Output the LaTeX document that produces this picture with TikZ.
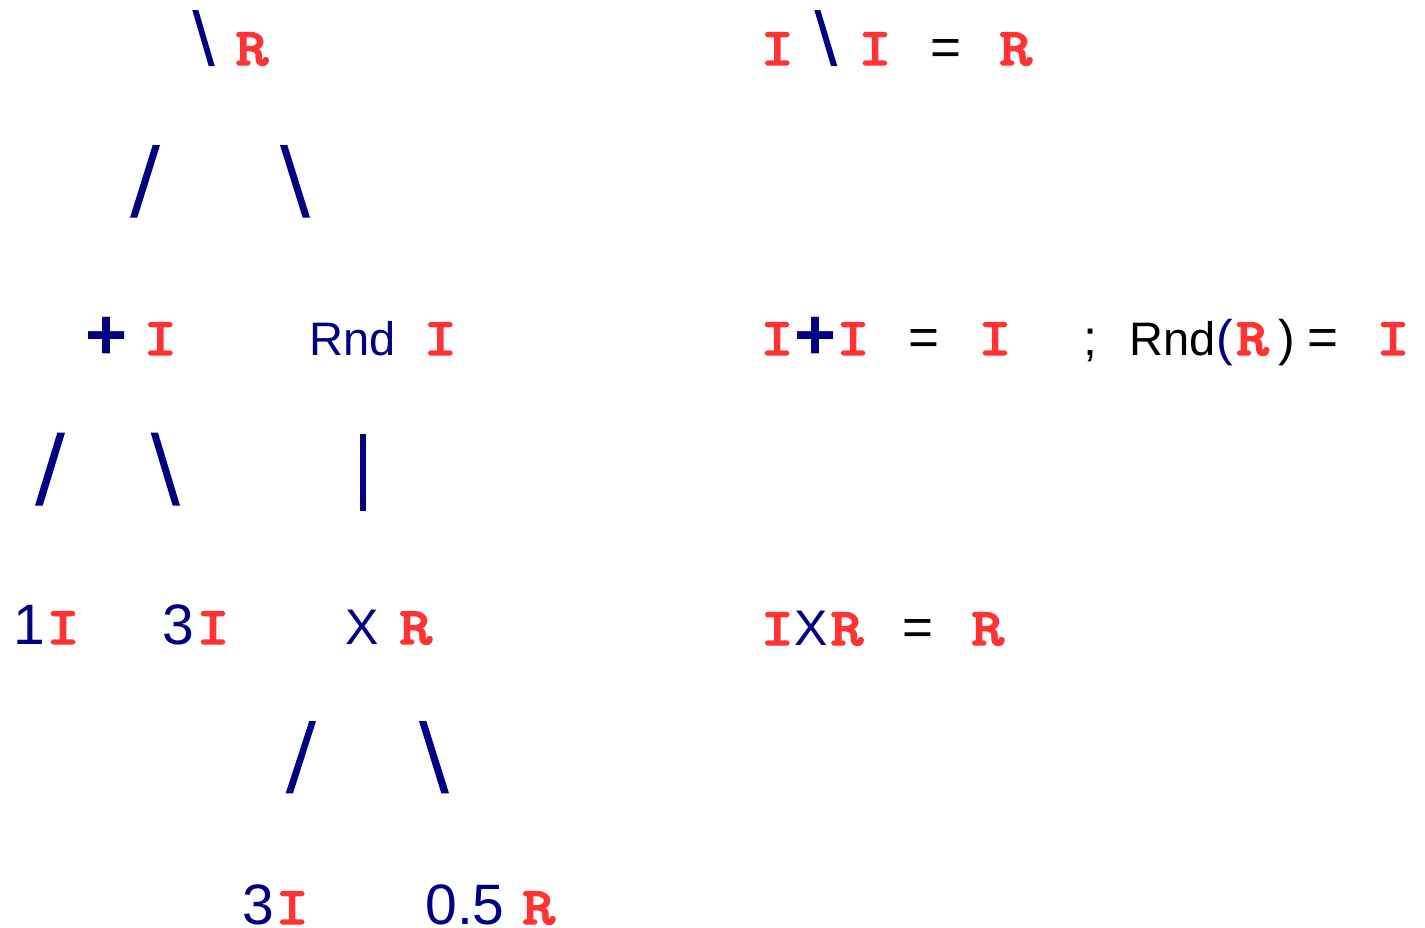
\documentclass[tikz,border=0pt]{standalone}
\usepackage{fontspec}
\setmainfont{Liberation Sans}
\newfontfamily\redfont{lmmonolt10-bold}[Extension=.otf, FakeBold=2.5, FakeStretch=1.18]
\definecolor{navyc}{RGB}{0,0,128}
\definecolor{redc}{RGB}{255,51,51}
\newcommand\fsz[1]{\fontsize{#1}{#1}\selectfont}
\tikzset{
  nav/.style={inner sep=0pt, anchor=base, text depth=0pt, text=navyc, font=\fsz{#1}},
  blk/.style={inner sep=0pt, anchor=base, text depth=0pt, text=black, font=\fsz{#1}},
  plusop/.style={inner sep=0pt, anchor=base, text=navyc, font=\bfseries\fsz{72}},
  rd/.style={inner sep=0pt, anchor=base, text depth=0pt, text=redc, font=\redfont\fsz{53}},
  edge/.style={fill=navyc},
}
\begin{document}
\begin{tikzpicture}[x=1pt,y=-1pt]
\useasboundingbox[fill=white] (0,0) rectangle (1425,927);
% ---- tree ----
\fill[edge] (192.3,10) -- (198.3,10) -- (214.7,66) -- (208.7,66) -- cycle;
\node[rd] (rootT) at (252,65) {R};
\fill[edge] (152.7,145) -- (160,145) -- (137.3,217.7) -- (130,217.7) -- cycle;
\fill[edge] (280,145) -- (287.3,145) -- (310,217.7) -- (302.7,217.7) -- cycle;
\node[plusop] (plusL) at (106.2,359.5) {+};
\node[rd] (plusT) at (160.3,355) {I};
\node[nav=47] (rndL) at (352.8,355) {Rnd};
\node[rd] (rndT) at (440.3,355) {I};
\fill[edge] (57.3,432.7) -- (65,432.7) -- (42.7,505.7) -- (35,505.7) -- cycle;
\fill[edge] (150.7,432.7) -- (158,432.7) -- (180,505.7) -- (172.7,505.7) -- cycle;
\fill[edge] (360.3,434.3) rectangle (365.7,510.7);
\node[nav=57] (one) at (29.3,644) {1};
\node[rd] (oneT) at (63,644) {I};
\node[nav=57] (three) at (178.7,644) {3};
\node[rd] (threeT) at (213,644) {I};
\node[nav=50] (times) at (361.7,644) {X};
\node[rd] (timesT) at (415.8,644) {R};
\fill[edge] (309.3,721) -- (316,721) -- (293,793.3) -- (285.7,793.3) -- cycle;
\fill[edge] (419,721) -- (426.3,721) -- (449,793.3) -- (441.3,793.3) -- cycle;
\node[nav=57] (threeB) at (258,924) {3};
\node[rd] (threeBT) at (292.2,924) {I};
\node[nav=57] (half) at (465,924) {0.5};
\node[rd] (halfT) at (538.8,924) {R};
% ---- rules ----
\node[rd] (a1) at (777.3,65) {I};
\fill[edge] (814.3,10) -- (820.3,10) -- (837.3,66) -- (831,66) -- cycle;
\node[rd] (a2) at (875,65) {I};
\node[blk=53] (a3) at (945.5,65) {=};
\node[rd] (a4) at (1015.8,65) {R};
\node[rd] (b1) at (777,355) {I};
\node[plusop] (b2) at (815.3,359.5) {+};
\node[rd] (b3) at (853,355) {I};
\node[blk=53] (b4) at (924,355) {=};
\node[rd] (b5) at (995,355) {I};
\node[blk=50] (b6) at (1090.5,355) {;};
\node[blk=47] (b7) at (1173,355) {Rnd};
\node[nav=50] (b8) at (1225,355) {(};
\node[rd] (b9) at (1252.5,355) {R};
\node[blk=50] (b10) at (1286.5,355) {)};
\node[blk=53] (b11) at (1323,355) {=};
\node[rd] (b12) at (1393,355) {I};
\node[rd] (c1) at (777.3,645) {I};
\node[nav=50] (c2) at (810.8,645) {X};
\node[rd] (c3) at (847,645) {R};
\node[blk=53] (c4) at (917.5,645) {=};
\node[rd] (c5) at (987.8,645) {R};
\end{tikzpicture}
\end{document}
